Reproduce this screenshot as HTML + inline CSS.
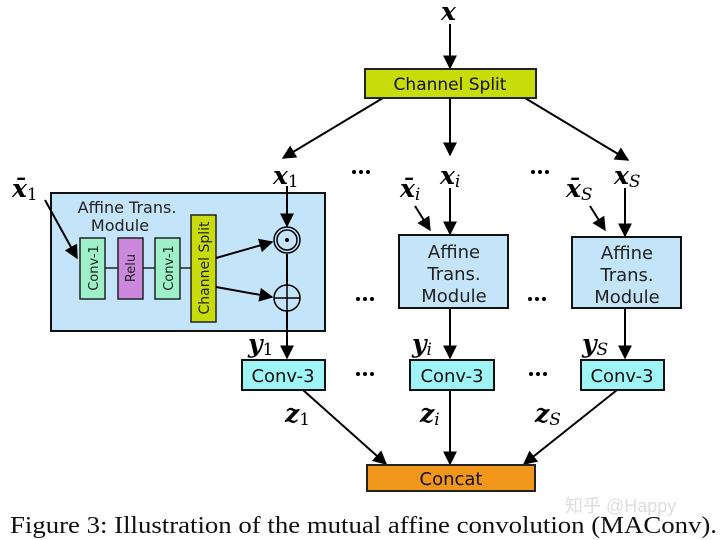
<!DOCTYPE html>
<html><head><meta charset="utf-8"><style>body{margin:0;background:#fff}svg{display:block}</style></head><body>
<svg width="720" height="540" viewBox="0 0 720 540" xmlns="http://www.w3.org/2000/svg">
<defs><marker id="b" viewBox="0 0 10 10" refX="9" refY="5" markerWidth="14" markerHeight="14" markerUnits="userSpaceOnUse" orient="auto"><path d="M0,0 L10,5 L0,10 z" fill="#000"/></marker>
<g id="d" fill="#000"><circle cx="-7" cy="0" r="2"/><circle cx="0" cy="0" r="2"/><circle cx="7" cy="0" r="2"/></g></defs>
<g font-family="DejaVu Serif,serif" font-style="italic" font-weight="bold" font-size="25">
<text x="441" y="20">x</text>
<text x="273" y="184">x<tspan font-size="17" font-weight="normal" font-style="normal" dy="3">1</tspan></text>
<text x="440" y="184">x<tspan font-size="17" font-weight="normal" dy="3">i</tspan></text>
<text x="614" y="184">x<tspan font-size="17" font-weight="normal" dy="3">S</tspan></text>
<text x="12" y="197">x̄<tspan font-size="17" font-weight="normal" font-style="normal" dy="3">1</tspan></text>
<text x="400" y="197">x̄<tspan font-size="17" font-weight="normal" dy="3">i</tspan></text>
<text x="566" y="197">x̄<tspan font-size="17" font-weight="normal" dy="3">S</tspan></text>
<text x="222" y="240">β<tspan font-size="17" font-weight="normal" font-style="normal" dy="3">1</tspan></text>
<text x="222" y="312">γ<tspan font-size="17" font-weight="normal" font-style="normal" dy="3">1</tspan></text>
<text x="248" y="352">y<tspan font-size="17" font-weight="normal" font-style="normal" dy="3">1</tspan></text>
<text x="412" y="352">y<tspan font-size="17" font-weight="normal" dy="3">i</tspan></text>
<text x="582" y="352">y<tspan font-size="17" font-weight="normal" dy="3">S</tspan></text>
<text x="285" y="422">z<tspan font-size="17" font-weight="normal" font-style="normal" dy="3">1</tspan></text>
<text x="420" y="422">z<tspan font-size="17" font-weight="normal" dy="3">i</tspan></text>
<text x="535" y="422">z<tspan font-size="17" font-weight="normal" dy="3">S</tspan></text>
</g>
<g stroke="#000" stroke-width="2" fill="none">
<line x1="450" y1="24" x2="450" y2="68" marker-end="url(#b)"/>
<line x1="383" y1="98" x2="283" y2="158" marker-end="url(#b)"/>
<line x1="450" y1="98" x2="450" y2="155" marker-end="url(#b)"/>
<line x1="525" y1="98" x2="628" y2="160" marker-end="url(#b)"/>
</g>
<rect x="365" y="69" width="171" height="29" fill="#c8dc0a" stroke="#222" stroke-width="2"/>
<text x="450" y="90" font-family="DejaVu Sans,sans-serif" font-size="17" text-anchor="middle" fill="#111">Channel Split</text>
<rect x="51" y="193" width="274" height="138" fill="#c4e4fa" stroke="#111" stroke-width="2"/>
<text x="127" y="213" font-family="DejaVu Sans,sans-serif" font-size="16" text-anchor="middle" fill="#222">Affine Trans.</text>
<text x="120" y="231" font-family="DejaVu Sans,sans-serif" font-size="16" text-anchor="middle" fill="#222">Module</text>
<g stroke="#222" stroke-width="1.5"><line x1="105" y1="268" x2="191" y2="268"/></g>
<rect x="80" y="238" width="25" height="61" fill="#9ef0c8" stroke="#222" stroke-width="1.5"/>
<rect x="118" y="238" width="25" height="61" fill="#cc88dd" stroke="#222" stroke-width="1.5"/>
<rect x="155" y="238" width="25" height="61" fill="#9ef0c8" stroke="#222" stroke-width="1.5"/>
<rect x="191" y="215" width="25" height="107" fill="#c8dc0a" stroke="#222" stroke-width="1.5"/>
<g font-family="DejaVu Sans,sans-serif" font-size="13" fill="#222" text-anchor="middle">
<text transform="translate(98,268) rotate(-90)">Conv-1</text>
<text transform="translate(135,268) rotate(-90)">Relu</text>
<text transform="translate(173,268) rotate(-90)">Conv-1</text>
<text transform="translate(209,268) rotate(-90)" font-size="14">Channel Split</text>
</g>
<g stroke="#000" stroke-width="2" fill="none">
<line x1="45" y1="200" x2="77" y2="258" marker-end="url(#b)"/>
<line x1="216" y1="258" x2="272" y2="242" marker-end="url(#b)"/>
<line x1="216" y1="287" x2="272" y2="297" marker-end="url(#b)"/>
<line x1="287" y1="186" x2="287" y2="226" marker-end="url(#b)"/>
<line x1="287" y1="254" x2="287" y2="285"/>
<line x1="287" y1="311" x2="287" y2="358" marker-end="url(#b)"/>
<circle cx="287" cy="240" r="13" stroke-width="1.5"/><circle cx="287" cy="240" r="10" stroke-width="1.5"/>
<circle cx="287" cy="298" r="13" stroke-width="1.5"/>
<line x1="274" y1="298" x2="300" y2="298" stroke-width="1.5"/><line x1="287" y1="285" x2="287" y2="311" stroke-width="1.5"/>
</g>
<circle cx="287" cy="240" r="2" fill="#000"/>
<g stroke="#000" stroke-width="2" fill="none">
<line x1="450" y1="188" x2="450" y2="234" marker-end="url(#b)"/>
<line x1="415" y1="206" x2="430" y2="230" marker-end="url(#b)"/>
<line x1="625" y1="188" x2="625" y2="236" marker-end="url(#b)"/>
<line x1="590" y1="206" x2="605" y2="230" marker-end="url(#b)"/>
<line x1="450" y1="308" x2="450" y2="358" marker-end="url(#b)"/>
<line x1="625" y1="308" x2="625" y2="358" marker-end="url(#b)"/>
<line x1="303" y1="390" x2="386" y2="464" marker-end="url(#b)"/>
<line x1="450" y1="390" x2="450" y2="464" marker-end="url(#b)"/>
<line x1="617" y1="390" x2="524" y2="464" marker-end="url(#b)"/>
</g>
<rect x="399" y="235" width="109" height="73" fill="#c4e4fa" stroke="#111" stroke-width="2"/>
<rect x="572" y="237" width="109" height="71" fill="#c4e4fa" stroke="#111" stroke-width="2"/>
<g font-family="DejaVu Sans,sans-serif" font-size="18" fill="#222" text-anchor="middle">
<text x="454" y="258">Affine</text><text x="454" y="280">Trans.</text><text x="454" y="302">Module</text>
<text x="627" y="259">Affine</text><text x="627" y="281">Trans.</text><text x="627" y="303">Module</text>
</g>
<g fill="#9ff4f6" stroke="#111" stroke-width="2">
<rect x="242" y="360" width="83" height="30"/>
<rect x="410" y="360" width="84" height="30"/>
<rect x="581" y="360" width="83" height="30"/>
</g>
<g font-family="DejaVu Sans,sans-serif" font-size="18" fill="#111" text-anchor="middle">
<text x="283" y="382">Conv-3</text><text x="452" y="382">Conv-3</text><text x="622" y="382">Conv-3</text>
</g>
<rect x="367" y="465" width="168" height="26" fill="#f0961a" stroke="#222" stroke-width="2"/>
<text x="451" y="485" font-family="DejaVu Sans,sans-serif" font-size="18" text-anchor="middle" fill="#111">Concat</text>
<use href="#d" x="361" y="172"/><use href="#d" x="540" y="172"/>
<use href="#d" x="365" y="299"/><use href="#d" x="537" y="299"/>
<use href="#d" x="365" y="374"/><use href="#d" x="538" y="374"/>
<text x="565" y="512" font-family="Liberation Sans,Noto Sans CJK SC,sans-serif" font-size="18" fill="#ddd">知乎 @Happy</text>
<text x="10" y="533" font-family="Liberation Serif,serif" font-size="24" fill="#111" textLength="707" lengthAdjust="spacingAndGlyphs">Figure 3: Illustration of the mutual affine convolution (MAConv).</text>
</svg>
</body></html>
